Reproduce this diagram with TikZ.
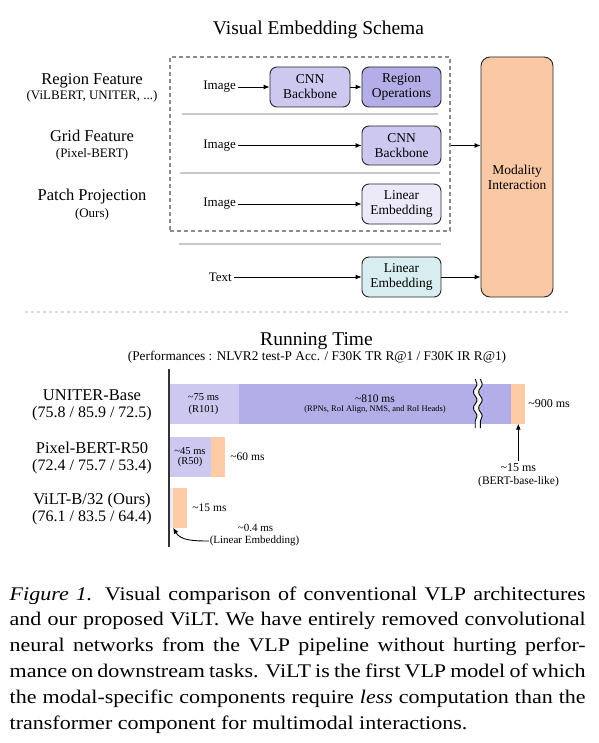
\documentclass[tikz,border=0pt]{standalone}
\usepackage{fontspec}
\setmainfont{Liberation Serif}
\newfontfamily\capfont[FakeStretch=1.14]{Liberation Serif}
\usetikzlibrary{arrows.meta,decorations.pathmorphing}
\newcommand\fz[2]{\fontsize{#1}{#2}\selectfont}
\definecolor{lavA}{HTML}{CCC8F0}
\definecolor{lavB}{HTML}{B4AEE8}
\definecolor{lavC}{HTML}{ECEAF9}
\definecolor{cyanL}{HTML}{D7EDF0}
\definecolor{peach}{HTML}{FAC8A4}
\definecolor{orng}{HTML}{FDCBA6}
\definecolor{sepg}{HTML}{C8C8C8}
\tikzset{
  ttl/.style={font=\fz{19.5}{22}, inner sep=0pt},
  lbl/.style={font=\fz{16.5}{19}, inner sep=0pt},
  sublbl/.style={font=\fz{13}{15}, inner sep=0pt},
  imgl/.style={font=\fz{13}{15}, inner sep=2pt},
  blk/.style={draw=black!85, line width=0.9pt, rounded corners=7pt, align=center,
    inner sep=0pt, font=\fz{13.5}{15}, minimum width=79pt, minimum height=40pt},
  arr/.style={-{Latex[length=6pt,width=5pt]}, line width=0.9pt, black},
  sepl/.style={draw=sepg, line width=1.5pt},
  bar/.style={draw=none, inner sep=0pt, anchor=north west},
  bt/.style={inner sep=0.5pt},
}
\begin{document}
\begin{tikzpicture}[x=1pt,y=-1pt]
\path[use as bounding box, fill=white] (0,0) rectangle (598,743);

% ---------- Visual Embedding Schema ----------
\node[ttl, anchor=base] (t1) at (318.5,35) {Visual Embedding Schema};

\node[lbl, anchor=base] (rf) at (92,85) {Region Feature};
\node[sublbl, anchor=base] (rfs) at (92,99.3) {(ViLBERT, UNITER, ...)};
\node[lbl, anchor=base] (gf) at (92,141.7) {Grid Feature};
\node[sublbl, anchor=base] (gfs) at (92,158) {(Pixel-BERT)};
\node[lbl, anchor=base] (pp) at (92,200.7) {Patch Projection};
\node[sublbl, anchor=base] (pps) at (92,218) {(Ours)};

\node[draw=black!45, line width=1.4pt, dash pattern=on 4pt off 3pt,
  minimum width=280pt, minimum height=174pt, inner sep=0pt] (dbox) at (310,144) {};

\draw[sepl] (182,114) -- (438,114);
\draw[sepl] (180,173) -- (440,173);
\draw[sepl] (179,244) -- (441,244);
\draw[draw=black!14, line width=1.6pt, dash pattern=on 3pt off 3pt] (25,312) -- (569,312);

\node[blk, fill=lavA, minimum width=80pt] (cnn1) at (310,87) {CNN\\Backbone};
\node[blk, fill=lavB] (reg) at (401.5,87) {Region\\Operations};
\node[blk, fill=lavA, minimum height=39pt] (cnn2) at (401.5,145.5) {CNN\\Backbone};
\node[blk, fill=lavC] (lin1) at (401.5,204) {Linear\\Embedding};
\node[blk, fill=cyanL] (lin2) at (401.5,277) {Linear\\Embedding};
\node[blk, fill=peach, rounded corners=9pt, minimum width=72pt, minimum height=240pt] (mod) at (517,177) {Modality\\Interaction};

\node[imgl, anchor=east] (img1) at (238,87) {Image};
\node[imgl, anchor=east] (img2) at (238,145.5) {Image};
\node[imgl, anchor=east] (img3) at (238,204) {Image};
\node[imgl, anchor=east] (txt) at (234,277) {Text};

\draw[arr] (img1.east) -- (cnn1.west);
\draw[arr] (cnn1.east) -- (reg.west);
\draw[arr] (img2.east) -- (cnn2.west);
\draw[arr] (img3.east) -- (lin1.west);
\draw[arr] (txt.east) -- (lin2.west);
\draw[arr] (dbox.east |- cnn2.west) -- (mod.west |- cnn2.west);
\draw[arr] (lin2.east) -- (mod.west |- lin2.east);

% ---------- Running Time ----------
\node[ttl, anchor=base] (t2) at (316.5,345) {Running Time};
\node[font=\fz{13.3}{15}, inner sep=0pt, anchor=base] (t2s) at (317,360.7)
  {(Performances : NLVR2 test-P Acc. / F30K TR R@1 / F30K IR R@1)};

\node[lbl, anchor=base] (m1) at (92,400) {UNITER-Base};
\node[lbl, font=\fz{16}{19}, anchor=base] (m1s) at (92,417.5) {(75.8 / 85.9 / 72.5)};
\node[lbl, anchor=base] (m2) at (92,453.3) {Pixel-BERT-R50};
\node[lbl, font=\fz{16}{19}, anchor=base] (m2s) at (92,470.7) {(72.4 / 75.7 / 53.4)};
\node[lbl, anchor=base] (m3) at (92,504.3) {ViLT-B/32 (Ours)};
\node[lbl, font=\fz{16}{19}, anchor=base] (m3s) at (92,521) {(76.1 / 83.5 / 64.4)};

% bars
\node[bar, fill=lavA, minimum width=69pt, minimum height=39.3pt] (u1) at (170,384) {};
\node[bar, fill=lavB, minimum width=272pt, minimum height=39.3pt] (u2) at (239,384) {};
\node[bar, fill=orng, minimum width=14pt, minimum height=39.3pt] (u3) at (511,384) {};
\node[bar, fill=lavA, minimum width=40.7pt, minimum height=40pt] (p1) at (170,436.7) {};
\node[bar, fill=orng, minimum width=13.6pt, minimum height=40pt] (p2) at (210.7,436.7) {};
\node[bar, fill=lavC, minimum width=2.7pt, minimum height=39.6pt] (v1) at (170,487.7) {};
\node[bar, fill=orng, minimum width=14pt, minimum height=39.6pt] (v2) at (172.7,487.7) {};

% axis
\draw[line width=2pt, black!80] (169,369) -- (169,547);

% break mark
\draw[white, line width=5pt, decorate, decoration={snake, amplitude=1.8pt, segment length=16pt}] (477.8,379) -- (477.8,428);
\draw[black, line width=0.9pt, decorate, decoration={snake, amplitude=1.8pt, segment length=16pt}] (475.2,379) -- (475.2,428);
\draw[black, line width=0.9pt, decorate, decoration={snake, amplitude=1.8pt, segment length=16pt}] (480.4,379) -- (480.4,428);

% bar labels
\node[bt, font=\fz{10.5}{12}] (l75) at (203.5,397) {\textasciitilde75 ms};
\node[bt, font=\fz{10.5}{12}] (l75s) at (203.5,409.5) {(R101)};
\node[bt, font=\fz{11.5}{13}] (l810) at (375,399) {\textasciitilde810 ms};
\node[bt, font=\fz{8.5}{10}] (l810s) at (375,409.5) {(RPNs, RoI Align, NMS, and RoI Heads)};
\node[bt, font=\fz{12}{14}] (l900) at (549,404) {\textasciitilde900 ms};
\node[bt, font=\fz{10.5}{12}] (l45) at (190,451) {\textasciitilde45 ms};
\node[bt, font=\fz{10.5}{12}] (l45s) at (190,462) {(R50)};
\node[bt, font=\fz{11.5}{13}] (l60) at (247.5,457) {\textasciitilde60 ms};
\node[bt, font=\fz{11.5}{13}] (l15) at (209.5,508) {\textasciitilde15 ms};
\node[bt, font=\fz{11}{13}] (l04) at (255.5,527.5) {\textasciitilde0.4 ms};
\node[bt, font=\fz{11}{13}] (le) at (254.5,541) {(Linear Embedding)};
\node[bt, font=\fz{12}{14}, inner sep=2pt] (lb) at (518.3,467.3) {\textasciitilde15 ms};
\node[bt, font=\fz{11.5}{13}] (lbs) at (518.5,481.3) {(BERT-base-like)};

\draw[arr] (lb.north) -- (lb.north |- u3.south);
\draw[arr] (le.west) to[out=180, in=-60] (v1.south east);

% ---------- Caption ----------
\node[anchor=base west, inner sep=0pt, text width=576pt, align=justify,
  font=\capfont\fz{19.3}{25.8}] (cap) at (9.5,600)
{\textit{Figure 1.} Visual comparison of conventional VLP architectures\linebreak
and our proposed ViLT. We have entirely removed convolutional\linebreak
neural networks from the VLP pipeline without hurting perfor-\linebreak
mance on downstream tasks. ViLT is the first VLP model of which\linebreak
the modal-specific components require \textit{less} computation than the\linebreak
transformer component for multimodal interactions.};
\end{tikzpicture}
\end{document}
